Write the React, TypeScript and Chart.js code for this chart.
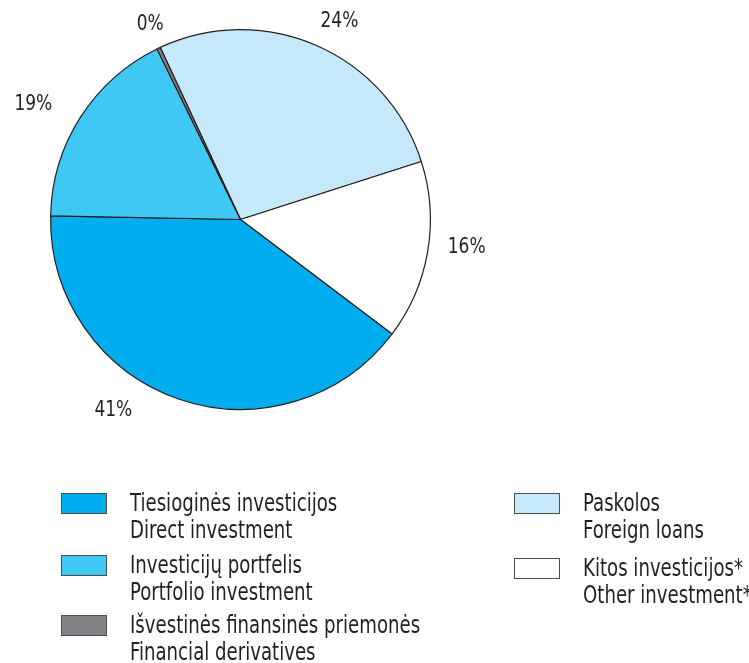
import React, { useEffect, useRef } from "react";
import { Chart, registerables } from "chart.js";

Chart.register(...registerables);

// Slices in drawing order (clockwise, starting at the top-left split)
const categories = ["Paskolos", "Kitos investicijos*", "Tiesioginės investicijos", "Investicijų portfelis", "Išvestinės finansinės priemonės"];
const shares = [27.0, 15.25, 40.0, 17.45, 0.3];
const percentLabels = ["24%", "16%", "41%", "19%", "0%"];
const sliceColors = ["#C6E9F9", "#FFFFFF", "#00AEEF", "#40C8F4", "#808285"];

// Legend (two lines per item: Lithuanian / English)
const legendLeft = [
  { lt: "Tiesioginės investicijos", en: "Direct investment", color: "#00AEEF" },
  { lt: "Investicijų portfelis", en: "Portfolio investment", color: "#40C8F4" },
  { lt: "Išvestinės finansinės priemonės", en: "Financial derivatives", color: "#808285" },
];
const legendRight = [
  { lt: "Paskolos", en: "Foreign loans", color: "#C6E9F9" },
  { lt: "Kitos investicijos*", en: "Other investment*", color: "#FFFFFF" },
];

const FONT = "'Liberation Sans Narrow', 'Arial Narrow', 'DejaVu Sans Condensed', sans-serif";

// label placement tweaks (degrees shift from slice middle, px beyond radius)
const labelShift = [3, -2.6, 14.5, -3.5, 0.7];
const labelGap = [31, 38, 40, 47, 25];

const outsideLabels = {
  id: "outsideLabels",
  afterDatasetsDraw(chart: any) {
    const ctx = chart.ctx;
    const meta = chart.getDatasetMeta(0);
    ctx.save();
    ctx.font = `21px ${FONT}`;
    ctx.fillStyle = "#231F20";
    ctx.textAlign = "center";
    ctx.textBaseline = "middle";
    meta.data.forEach((arc: any, i: number) => {
      const mid = (arc.startAngle + arc.endAngle) / 2 + (labelShift[i] * Math.PI) / 180;
      const r = arc.outerRadius + labelGap[i];
      const x = arc.x + Math.cos(mid) * r;
      const y = arc.y + Math.sin(mid) * r;
      ctx.save();
      ctx.translate(x, y);
      ctx.scale(0.9, 1);
      ctx.fillText(percentLabels[i], 0, 0);
      ctx.restore();
    });
    ctx.restore();
  },
};

function LegendItem({ item, x, y }: { item: any; x: number; y: number }) {
  return (
    <div style={{ position: "absolute", left: x, top: y }}>
      <div
        style={{
          position: "absolute",
          left: 0,
          top: 0,
          width: 46,
          height: 21,
          background: item.color,
          border: "1px solid #4D4D4F",
          boxSizing: "border-box",
        }}
      />
      <div
        style={{
          position: "absolute",
          left: 69,
          top: -3,
          fontFamily: FONT,
          fontSize: 24,
          lineHeight: "27px",
          color: "#231F20",
          whiteSpace: "nowrap",
          transform: "scaleX(0.84)",
          transformOrigin: "0 0",
        }}
      >
        <div>{item.lt}</div>
        <div>{item.en}</div>
      </div>
    </div>
  );
}

export default function App() {
  const canvasRef = useRef<HTMLCanvasElement | null>(null);

  useEffect(() => {
    document.body.style.margin = "0";
    const chart = new Chart(canvasRef.current as HTMLCanvasElement, {
      type: "pie",
      data: {
        labels: categories,
        datasets: [
          {
            data: shares,
            backgroundColor: sliceColors,
            borderColor: "#231F20",
            borderWidth: 1.2,
          },
        ],
      },
      options: {
        responsive: false,
        animation: false,
        rotation: -25,
        layout: { padding: { left: 50, right: 318, top: 29, bottom: 253 } },
        plugins: {
          legend: { display: false },
          tooltip: { enabled: false },
        },
      },
      plugins: [outsideLabels],
    });
    return () => chart.destroy();
  }, []);

  return (
    <div style={{ position: "fixed", left: 0, top: 0, width: 749, height: 663, background: "#fff" }}>
      <canvas ref={canvasRef} width={749} height={663} style={{ position: "absolute", left: 0, top: 0 }} />
      {legendLeft.map((it, i) => (
        <LegendItem key={i} item={it} x={61} y={[493, 555, 615][i]} />
      ))}
      {legendRight.map((it, i) => (
        <LegendItem key={i} item={it} x={514} y={[493, 558][i]} />
      ))}
    </div>
  );
}
